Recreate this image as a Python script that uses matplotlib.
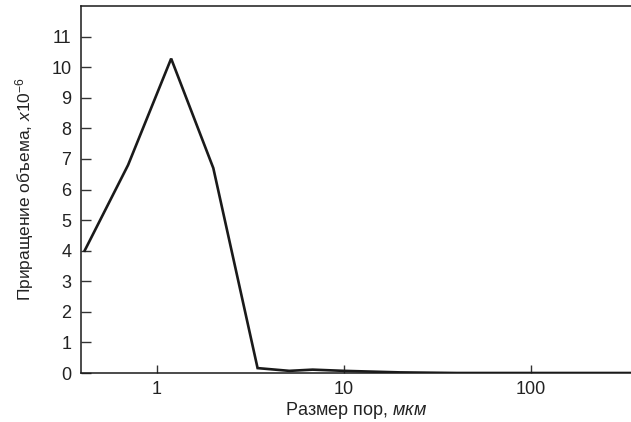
import numpy as np
import matplotlib.pyplot as plt

plt.rcParams['font.family'] = ['Liberation Sans', 'DejaVu Sans']
plt.rcParams['mathtext.fontset'] = 'custom'
plt.rcParams['mathtext.rm'] = 'Liberation Sans'
plt.rcParams['mathtext.it'] = 'Liberation Sans:italic'

# размер пор (мкм) и приращение объема (x10^-6)
pore_size = [0.41, 0.70, 1.19, 2.0, 3.45, 5.1, 6.8, 10, 20, 40, 100, 343]
volume_inc = [4.0, 6.8, 10.28, 6.7, 0.16, 0.07, 0.11, 0.07, 0.02, 0.0, 0.0, 0.0]

fig = plt.figure(figsize=(6.31, 4.22), dpi=100)
ax = fig.add_axes([81 / 631, 1 - 373 / 422, 1 - 81 / 631, (373 - 6) / 422])

ax.plot(pore_size, volume_inc, color='#1a1a1a', linewidth=1.9, solid_joinstyle='miter')

ax.set_xscale('log')
ax.set_xlim(0.392, 343)
ax.set_ylim(0, 12)
ax.set_xticks([1, 10, 100])
ax.set_xticklabels(['1', '10', '100'])
ax.xaxis.set_minor_locator(plt.NullLocator())
ax.set_yticks(range(0, 12))

ax.tick_params(axis='both', direction='in', labelsize=13, width=1.0, color='#333333',
               labelcolor='#222222')
ax.tick_params(axis='y', length=7, pad=7)
ax.tick_params(axis='x', length=6, pad=6)

ax.spines['right'].set_visible(False)
for s in ['top', 'left', 'bottom']:
    ax.spines[s].set_linewidth(1.1)
    ax.spines[s].set_color('#1a1a1a')

ax.set_xlabel('Размер пор, $\\it{мкм}$', fontsize=13, labelpad=1, color='#222222')
ax.set_ylabel('Приращение объема, $\\it{x10}^{\\it{-6}}$', fontsize=12.5, labelpad=11,
              color='#222222')

fig.savefig('out.png', dpi=100)
